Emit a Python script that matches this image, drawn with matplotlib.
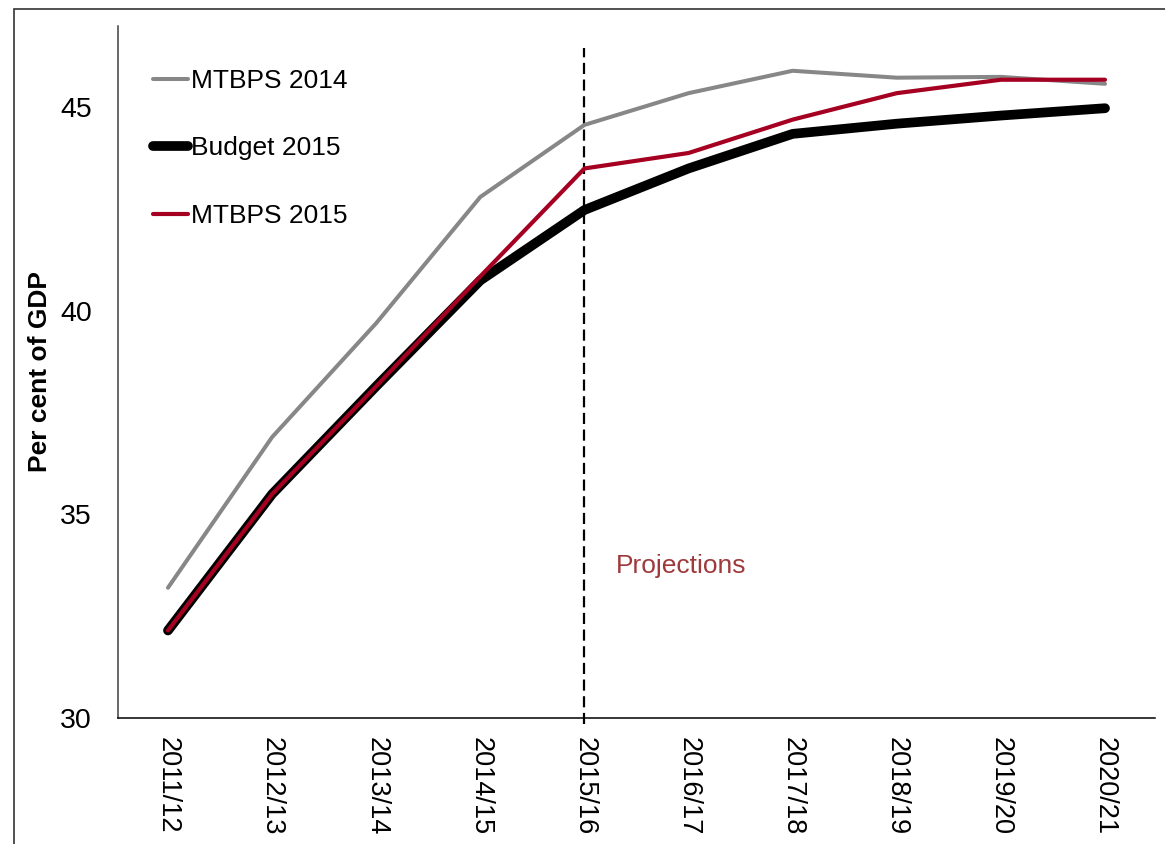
import matplotlib
matplotlib.use('Agg')
import matplotlib.pyplot as plt
from matplotlib.patches import Rectangle
import numpy as np

# Data (per cent of GDP)
years = ['2011/12', '2012/13', '2013/14', '2014/15', '2015/16',
         '2016/17', '2017/18', '2018/19', '2019/20', '2020/21']
mtbps_2014 = [33.2, 36.9, 39.7, 42.8, 44.57, 45.35, 45.9, 45.73, 45.75, 45.58]
budget_2015 = [32.15, 35.5, 38.15, 40.75, 42.48, 43.5, 44.35, 44.6, 44.8, 44.98]
mtbps_2015 = [32.15, 35.5, 38.15, 40.85, 43.5, 43.88, 44.7, 45.35, 45.68, 45.68]
yticks = [30, 35, 40, 45]
proj_year = '2015/16'

plt.rcParams['font.family'] = ['Liberation Sans', 'DejaVu Sans']

fig = plt.figure(figsize=(11.65, 8.44), dpi=100)
ax = fig.add_axes([0.1013, 0.1493, 0.8901, 0.8199])

x = np.arange(len(years))
ax.plot(x, mtbps_2014, color='#878787', lw=2.9, solid_capstyle='round',
        solid_joinstyle='round', label='MTBPS 2014', zorder=3)
ax.plot(x, budget_2015, color='black', lw=7, solid_capstyle='round',
        solid_joinstyle='round', label='Budget 2015', zorder=4)
ax.plot(x, mtbps_2015, color='#A50021', lw=3, solid_capstyle='round',
        solid_joinstyle='round', label='MTBPS 2015', zorder=5)

# projections marker
px = years.index(proj_year)
ax.axvline(px, ymin=-0.009, ymax=(46.45 - 30) / 17, color='black', lw=1.6,
           dashes=(5, 2.5), clip_on=False, zorder=2)
ax.text(px + 0.3, 33.73, 'Projections', color='#9E3A3C', fontsize=19,
        va='center', ha='left')

ax.set_xlim(-0.48, len(years) - 0.52)
ax.set_ylim(30, 47)
ax.set_xticks(x)
ax.set_xticklabels(years, rotation=-90, fontsize=19.5)
ax.set_yticks(yticks)
ax.set_yticklabels([str(v) for v in yticks], fontsize=20.5)
ax.tick_params(axis='x', length=0, pad=14)
ax.tick_params(axis='y', length=0, pad=19)
ax.set_ylabel('Per cent of GDP', fontsize=19, fontweight='bold', labelpad=6)

for s in ['top', 'right']:
    ax.spines[s].set_visible(False)
ax.spines['left'].set_color('#404040')
ax.spines['left'].set_linewidth(1.1)
ax.spines['bottom'].set_color('black')
ax.spines['bottom'].set_linewidth(1.1)

ax.legend(loc='upper left', bbox_to_anchor=(0.034, 0.938), frameon=False,
          fontsize=19, handlelength=1.33, handletextpad=0.1, labelspacing=1.65,
          borderaxespad=0, borderpad=0)

# outer frame (right and bottom edges fall outside the image)
fig.patches.append(Rectangle((0.012, -0.2), 1.2, 1.189, transform=fig.transFigure,
                             fill=False, ec='#333333', lw=1.2))

fig.savefig('out.png', dpi=100)
